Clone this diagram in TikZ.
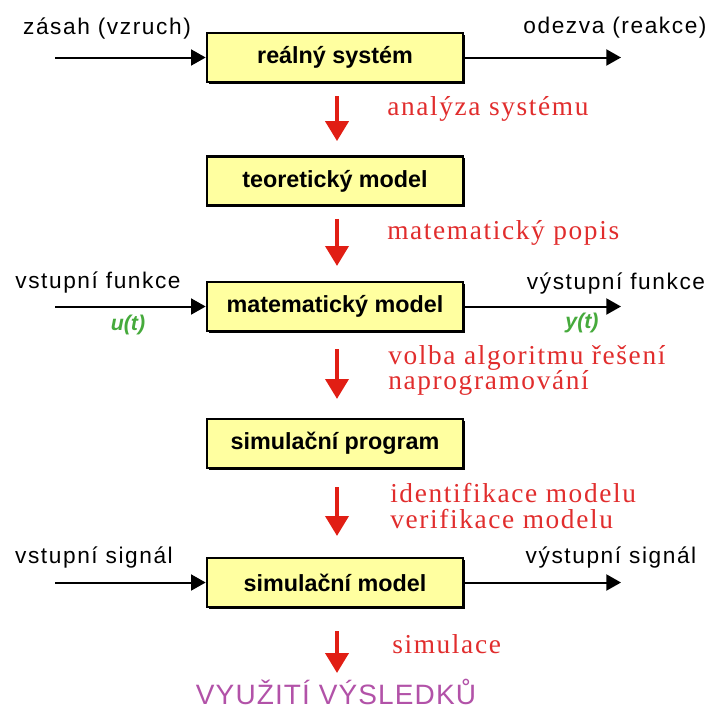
\documentclass[tikz,border=0pt]{standalone}
\usepackage{fontspec}
\setmainfont{Liberation Sans}
\newfontfamily\redserif[LetterSpace=6]{Liberation Serif}
\newfontfamily\lblfont[LetterSpace=7]{Liberation Sans}
\newfontfamily\resfont[LetterSpace=4]{Liberation Sans}
\usetikzlibrary{arrows.meta,shadows,calc}
\definecolor{boxyellow}{RGB}{255,255,160}
\definecolor{redarrow}{RGB}{225,30,20}
\definecolor{redtext}{RGB}{225,45,45}
\definecolor{greentext}{RGB}{70,170,60}
\definecolor{purpletext}{RGB}{178,82,168}
\begin{document}
\begin{tikzpicture}[x=0.75pt,y=-0.75pt,
  blockbox/.style={draw=black, line width=2pt, fill=boxyellow,
    minimum width=192pt, minimum height=36.75pt, inner sep=0pt,
    font=\bfseries\fontsize{17.5}{20}\selectfont,
    drop shadow={shadow xshift=1.3pt, shadow yshift=-1.3pt, opacity=1, fill=black}},
  blkarr/.style={draw=black, line width=1.5pt, -{Triangle[length=11pt,width=12pt]}},
  redarr/.style={draw=redarrow, line width=3.5pt, -{Triangle[length=15pt,width=17pt]}},
  blklabel/.style={font=\lblfont\fontsize{17}{20}\selectfont, inner sep=0pt},
  redlabel/.style={font=\redserif\fontsize{20.5}{24}\selectfont, text=redtext, inner sep=0pt, anchor=base west},
  greenlabel/.style={font=\bfseries\itshape\fontsize{16}{18}\selectfont, text=greentext, inner sep=0pt},
  resultlabel/.style={font=\resfont\fontsize{21}{24}\selectfont, text=purpletext, inner sep=0pt}
]
\useasboundingbox[fill=white] (0,0) rectangle (716,711);

% boxes
\node[blockbox] (b1) at (335,57.5) {reálný systém};
\node[blockbox] (b2) at (335,181) {teoretický model};
\node[blockbox] (b3) at (335,306.5) {matematický model};
\node[blockbox] (b4) at (335,443.5) {simulační program};
\node[blockbox] (b5) at (335,582.5) {simulační model};

% free ends of black arrows
\coordinate (in1) at (55,57.5);
\coordinate (out1) at (621,57.5);
\coordinate (in3) at (55,306.5);
\coordinate (out3) at (621,306.5);
\coordinate (in5) at (55,582.5);
\coordinate (out5) at (621,582.5);

\draw[blkarr] (in1) -- (b1.west);
\draw[blkarr] (b1.east) -- (out1);
\draw[blkarr] (in3) -- (b3.west);
\draw[blkarr] (b3.east) -- (out3);
\draw[blkarr] (in5) -- (b5.west);
\draw[blkarr] (b5.east) -- (out5);

% black labels
\node[blklabel] (l1) at (107,28) {zásah (vzruch)};
\node[blklabel] (r1) at (615,28) {odezva (reakce)};
\node[blklabel] (l3) at (98,282) {vstupní funkce};
\node[blklabel] (r3) at (616,283) {výstupní funkce};
\node[blklabel] (l5) at (94,557) {vstupní signál};
\node[blklabel] (r5) at (611,557) {výstupní signál};

% green labels
\node[greenlabel] (ut) at (128,325) {u(t)};
\node[greenlabel] (yt) at (582,323) {y(t)};

% result
\node[resultlabel, anchor=base] (res) at (336,704) {VYUŽITÍ VÝSLEDKŮ};

% red arrows
\draw[redarr] ([xshift=1.5pt,yshift=-9.5pt]b1.south) -- ([xshift=1.5pt,yshift=10.5pt]b2.north);
\draw[redarr] ([xshift=1.5pt,yshift=-9pt]b2.south) -- ([xshift=1.5pt,yshift=11pt]b3.north);
\draw[redarr] ([xshift=1.5pt,yshift=-12.5pt]b3.south) -- ([xshift=1.5pt,yshift=14pt]b4.north);
\draw[redarr] ([xshift=1.5pt,yshift=-13.5pt]b4.south) -- ([xshift=1.5pt,yshift=15.5pt]b5.north);
\draw[redarr] ([xshift=1.5pt,yshift=-17pt]b5.south) -- ($(b5.south |- res.north)+(1.5pt,4pt)$);

% red labels
\node[redlabel] (t1) at (387,115) {analýza systému};
\node[redlabel] (t2) at (387,239) {matematický popis};
\node[redlabel] (t3a) at (388,364) {volba algoritmu řešení};
\node[redlabel] (t3b) at (388,389.5) {naprogramování};
\node[redlabel] (t4a) at (390,502.5) {identifikace modelu};
\node[redlabel] (t4b) at (390,528.5) {verifikace modelu};
\node[redlabel] (t5) at (392,653.5) {simulace};
\end{tikzpicture}
\end{document}
